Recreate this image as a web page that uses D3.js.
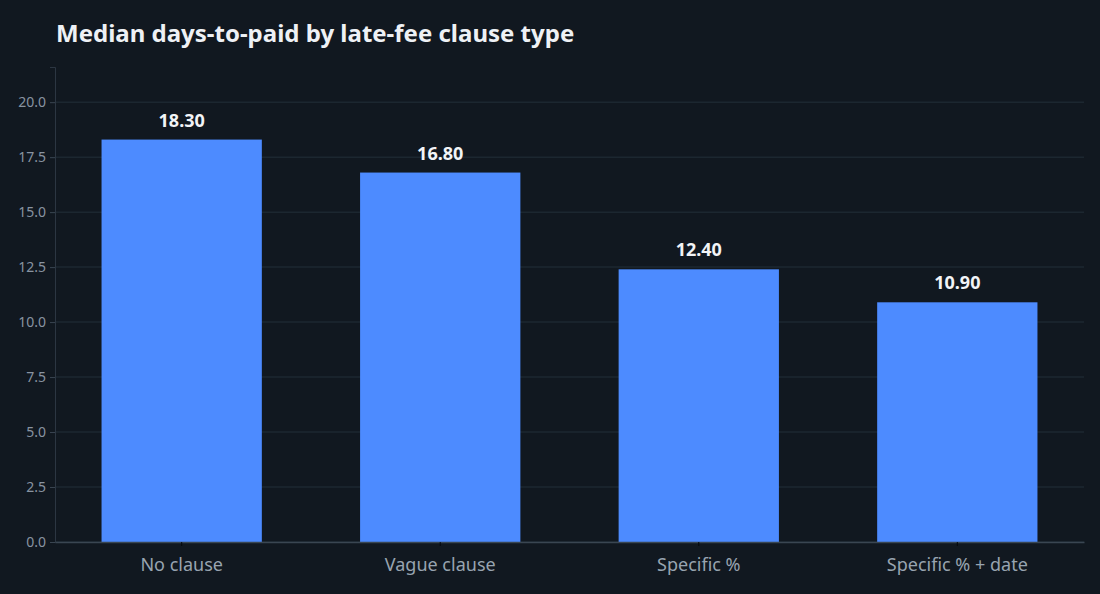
<html>
<head>
  <title>Median days-to-paid</title>
  <script src="https://d3js.org/d3.v7.min.js"></script>
  <style>
    body { margin: 0; background: #111820; }
    text { font-family: "Noto Sans", sans-serif; }
  </style>
</head>
<body>
<script>
  var width = 1100;
  var height = 594;

  // data
  var categories = ["No clause", "Vague clause", "Specific %", "Specific % + date"];
  var values = [18.3, 16.8, 12.4, 10.9];
  var yTicks = [0, 2.5, 5, 7.5, 10, 12.5, 15, 17.5, 20];

  var margin = {top: 67, right: 16, bottom: 52, left: 55};

  var svg = d3.select("body")
    .append("svg")
    .attr("width", width)
    .attr("height", height);

  svg.append("rect")
    .attr("width", width)
    .attr("height", height)
    .attr("fill", "#111820");

  var x = d3.scaleBand()
    .domain(categories)
    .range([margin.left, width - margin.right])
    .paddingInner(0.38)
    .paddingOuter(0.18);

  var y = d3.scaleLinear()
    .domain([0, 21.6])
    .range([height - margin.bottom, margin.top]);

  // gridlines
  svg.append("g")
    .selectAll("line")
    .data(yTicks)
    .enter()
    .append("line")
    .attr("x1", margin.left)
    .attr("x2", width - margin.right)
    .attr("y1", d => y(d))
    .attr("y2", d => y(d))
    .attr("stroke", "#1c2730")
    .attr("stroke-width", 1.5);

  // bars
  svg.append("g")
    .selectAll("rect")
    .data(values)
    .enter()
    .append("rect")
    .attr("x", (d, i) => x(categories[i]))
    .attr("y", d => y(d))
    .attr("width", x.bandwidth())
    .attr("height", d => y(0) - y(d))
    .attr("fill", "#4d8bff");

  // value labels
  svg.append("g")
    .selectAll("text")
    .data(values)
    .enter()
    .append("text")
    .attr("x", (d, i) => x(categories[i]) + x.bandwidth() / 2)
    .attr("y", d => y(d) - 13)
    .attr("text-anchor", "middle")
    .attr("font-size", 18)
    .attr("font-weight", "bold")
    .attr("fill", "#f2f4f7")
    .text(d => d.toFixed(2));

  // y axis
  var yAxis = svg.append("g")
    .attr("transform", "translate(" + margin.left + ",0)")
    .call(d3.axisLeft(y).tickValues(yTicks).tickFormat(d3.format(".1f")).tickSize(5).tickPadding(4));
  yAxis.select(".domain").attr("stroke", "#2c3642");
  yAxis.selectAll(".tick line").attr("stroke", "#3a4652");
  yAxis.selectAll(".tick text")
    .attr("fill", "#8893a0")
    .attr("font-size", 14)
    .attr("font-family", "Noto Sans, sans-serif");

  // x axis
  var xAxis = svg.append("g")
    .attr("transform", "translate(0," + y(0) + ")")
    .call(d3.axisBottom(x).tickSize(4).tickSizeOuter(0).tickPadding(12));
  xAxis.select(".domain").attr("stroke", "#3a4652").attr("stroke-width", 1.5);
  xAxis.selectAll(".tick line").attr("stroke", "#05080b");
  xAxis.selectAll(".tick text")
    .attr("fill", "#98a4b0")
    .attr("font-size", 18)
    .attr("font-family", "Noto Sans, sans-serif");

  // title
  svg.append("text")
    .attr("x", 56)
    .attr("y", 42)
    .attr("font-size", 24)
    .attr("font-weight", "bold")
    .attr("fill", "#eef1f5")
    .text("Median days-to-paid by late-fee clause type");
</script>
</body>
</html>
